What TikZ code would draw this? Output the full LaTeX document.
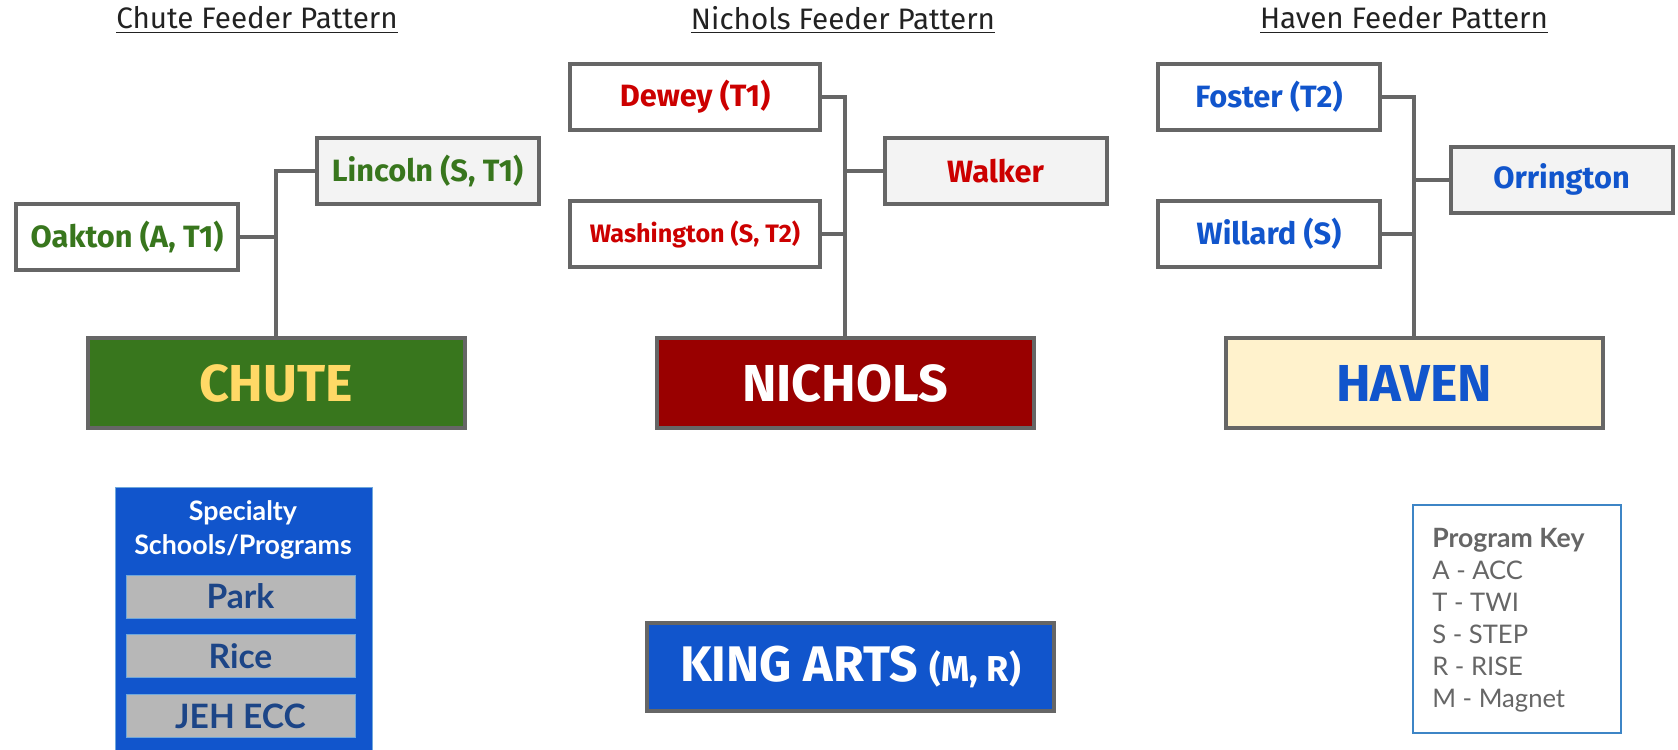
\documentclass[tikz,border=0pt]{standalone}
\usepackage{fontspec}
\setmainfont{Fira Sans}
\newfontfamily\lato{Lato}
\usetikzlibrary{positioning}
\definecolor{linegray}{HTML}{666666}
\definecolor{lightbox}{HTML}{F3F3F3}
\definecolor{chutegreen}{HTML}{38761D}
\definecolor{chuteyellow}{HTML}{FFD966}
\definecolor{nicholsfill}{HTML}{990000}
\definecolor{nicholsred}{HTML}{CC0000}
\definecolor{havenblue}{HTML}{1155CC}
\definecolor{havenfill}{HTML}{FFF2CC}
\definecolor{specgray}{HTML}{B7B7B7}
\definecolor{specborder}{HTML}{6FA8DC}
\definecolor{navy}{HTML}{1C4587}
\definecolor{keyblue}{HTML}{3D85C6}
\definecolor{keygray}{HTML}{666666}
\definecolor{titleblack}{HTML}{222222}

\begin{document}
\begin{tikzpicture}[x=0.5pt,y=-0.5pt,inner sep=0pt]
  \useasboundingbox (0,0) rectangle (1678,750);
  \tikzstyle{f}=[rectangle,draw=linegray,line width=2pt,minimum width=111pt,minimum height=33pt,font=\bfseries\fontsize{15.4}{17}\selectfont]
  \tikzstyle{hs}=[f,minimum width=188.5pt,minimum height=45pt,font=\bfseries\fontsize{26}{30}\selectfont]
  \tikzstyle{t}=[font=\fontsize{14.8}{17}\selectfont,text=titleblack]
  % feeder titles
  \node[t](tchute)at(257,20){\underline{Chute Feeder Pattern}};
  \node[t](tnichols)at(843,20){\underline{Nichols Feeder Pattern}};
  \node[t](thaven)at(1404,20){\underline{Haven Feeder Pattern}};
  % chute
  \node[hs,fill=chutegreen,text=chuteyellow](chute)at(276,383){CHUTE};
  \node[f,fill=white,text=chutegreen](oakton)at(127,236.5){Oakton (A, T1)};
  \node[f,fill=lightbox,text=chutegreen](lincoln)at(427.5,171){Lincoln (S, T1)};
  % nichols
  \node[hs,fill=nicholsfill,text=white](nichols)at(845,383){NICHOLS};
  \node[f,minimum width=125pt,fill=white,text=nicholsred](dewey)at(695,97){Dewey (T1)};
  \node[f,minimum width=125pt,fill=white,text=nicholsred,font=\bfseries\fontsize{12.6}{15}\selectfont](washington)at(695,234){Washington (S, T2)};
  \node[f,fill=lightbox,text=nicholsred](walker)at(995.5,171){Walker};
  % haven
  \node[hs,fill=havenfill,text=havenblue](haven)at(1414,383){HAVEN};
  \node[f,fill=white,text=havenblue](foster)at(1269,97){Foster (T2)};
  \node[f,fill=white,text=havenblue](willard)at(1269,234){Willard (S)};
  \node[f,fill=lightbox,text=havenblue](orrington)at(1561.5,179.5){Orrington};
  \tikzstyle{l}=[draw=linegray,line width=2pt]
  \foreach\o/\d in{lincoln.west/chute,dewey.east/nichols,foster.east/haven}{\draw[l](\o)-|(\d.north);}
  \foreach\o/\d in{oakton.east/chute,washington.east/nichols,walker.west/nichols,willard.east/haven,orrington.west/haven}{\draw[l](\o)--(\o-|\d.north);}
  % specialty schools
  \node[rectangle,fill=havenblue,draw=specborder,line width=0.5pt,minimum width=128.5pt,minimum height=140pt,anchor=north](spec)at(243.5,487){};
  \node[text=white,align=center,font=\lato\bfseries\fontsize{13.4}{16.8}\selectfont](spectitle)at(243,530){Specialty\\Schools/Programs};
  \tikzstyle{sp}=[rectangle,fill=specgray,draw=specborder,line width=0.5pt,minimum width=114.5pt,minimum height=21.5pt,text=navy,font=\lato\bfseries\fontsize{16.8}{19}\selectfont]
  \foreach\n/\y/\s in{park/596.5/Park,rice/656/Rice,jeh/716/JEH ECC}{\node[sp](\n)at(240.5,\y){\s};}
  % magnet
  \node[hs,minimum width=203.5pt,minimum height=44pt,fill=havenblue,text=white,font=\bfseries\fontsize{25}{28}\selectfont](king)at(850.5,667){KING ARTS {\fontsize{18}{20}\selectfont(M, R)}};
  % key
  \node[draw=keyblue,line width=1pt,minimum width=104pt,minimum height=114pt](key)at(1517,619){};
  \node[anchor=north west,align=left,text=keygray,font=\lato\fontsize{12.8}{16}\selectfont](keytext)at(1432,528){{\fontsize{13.3}{16}\selectfont\textbf{Program Key}}\\A - ACC\\T - TWI\\S - STEP\\R - RISE\\M - Magnet};
\end{tikzpicture}
\end{document}
